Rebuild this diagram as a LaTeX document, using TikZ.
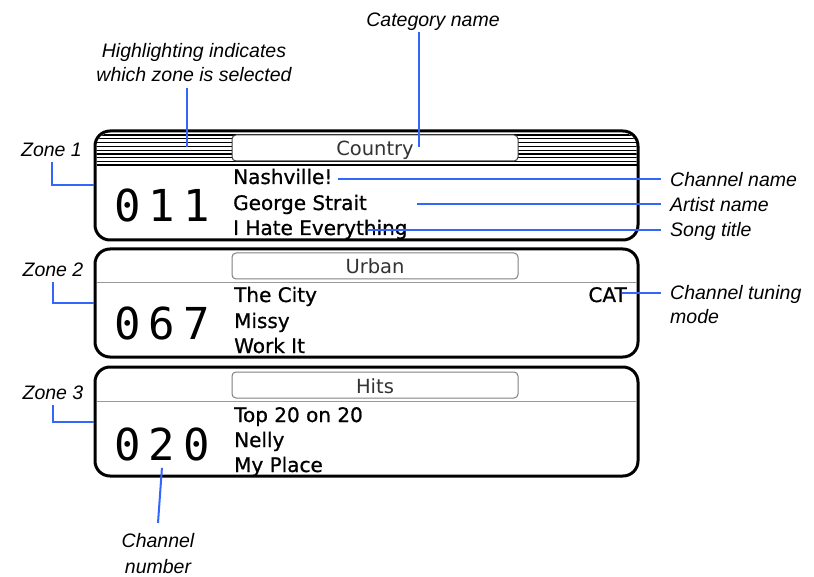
\documentclass[tikz,border=0pt]{standalone}
\usepackage{fontspec}
\setmainfont{Liberation Sans}
\newfontfamily\dejavu{DejaVu Sans}
\newfontfamily\dejavubf[FakeBold=0.9]{DejaVu Sans}
\newfontfamily\dmono{DejaVu Sans Mono}
\definecolor{callout}{HTML}{3366FF}
\begin{document}
\begin{tikzpicture}[x=1pt,y=-1pt,
  zonebox/.style={draw=black, line width=3pt, rounded corners=15pt, minimum width=543pt, inner sep=0pt},
  catbox/.style={draw=black!50, line width=1pt, rounded corners=4pt, fill=white, minimum width=286pt, minimum height=26pt, inner sep=0pt},
  lbl/.style={font=\fontsize{19.5}{24}\selectfont\itshape, inner sep=0pt},
  info/.style={font=\dejavubf\fontsize{20}{24}\selectfont, inner sep=0pt, anchor=base west},
  digits/.style={font=\dmono\fontsize{44}{48}\selectfont, inner sep=0pt, anchor=base west},
  cattext/.style={font=\dejavu\fontsize{19.5}{22}\selectfont, text=black!80, inner sep=0pt, anchor=base},
  lead/.style={draw=callout, line width=2pt},
  hatch/.style={draw=black, line width=1.1pt},
  sepgray/.style={draw=black!40, line width=1pt}
]
\useasboundingbox (0,0) rectangle (814,577);

% ---------- Zone boxes ----------
\node[zonebox, minimum height=109pt] (z1) at (366.5,185.5) {};
\node[zonebox, minimum height=108pt] (z2) at (366.5,303) {};
\node[zonebox, minimum height=109pt] (z3) at (366.5,421.5) {};

% hatching of the selected zone header
\begin{scope}
  \clip[rounded corners=14pt] (96.5,132.5) rectangle (636.5,238.5);
  \foreach \k in {0,...,7} {
    \draw[hatch] (95,135+\k*3.8) -- (638,135+\k*3.8);
  }
\end{scope}
\draw[line width=2pt] (96.5,165.5) -- (636.5,165.5);
\draw[sepgray] (96.5,283) -- (636.5,283);
\draw[sepgray] (96.5,401) -- (636.5,401);

% ---------- Category boxes ----------
\node[catbox, draw=black!75] (c1) at (375,148) {};
\node[cattext] (c1t) at (375,156) {Country};
\node[catbox] (c2) at (375,266) {};
\node[cattext] (c2t) at (375,274) {Urban};
\node[catbox] (c3) at (375,385) {};
\node[cattext] (c3t) at (375,393) {Hits};

% ---------- Channel numbers ----------
\node[digits] (d1) at (114,222) {0\hspace{8pt}1\hspace{8pt}1};
\node[digits] (d2) at (114,340) {0\hspace{8pt}6\hspace{8pt}7};
\node[digits] (d3) at (114,460) {0\hspace{8pt}2\hspace{8pt}0};

% ---------- Info lines ----------
\node[info] (t1a) at (233,184) {Nashville!};
\node[info] (t1b) at (233,210) {George Strait};
\node[info] (t1c) at (233,235) {I Hate Everything};
\node[info] (t2a) at (234,302) {The City};
\node[info] (t2b) at (234,328) {Missy};
\node[info] (t2c) at (234,353) {Work It};
\node[info] (t3a) at (234,422) {Top 20 on 20};
\node[info] (t3b) at (234,447) {Nelly};
\node[info] (t3c) at (234,472) {My Place};
\node[info, anchor=base east] (cat) at (627,302) {CAT};

% ---------- Callout labels ----------
\node[lbl, anchor=base] (catname) at (433,27) {Category name};
\node[lbl, anchor=north, align=center] (hl) at (194,43) {Highlighting indicates\\which zone is selected};
\node[lbl, anchor=base] (zl1) at (51.5,157) {Zone 1};
\node[lbl, anchor=base] (zl2) at (53,277) {Zone 2};
\node[lbl, anchor=base] (zl3) at (53,399) {Zone 3};
\node[lbl, anchor=base west] (chn) at (670,187) {Channel name};
\node[lbl, anchor=base west] (art) at (670,212) {Artist name};
\node[lbl, anchor=base west] (song) at (670,237) {Song title};
\node[lbl, anchor=north west, align=left] (ctm) at (670,285) {Channel tuning\\mode};
\node[lbl, anchor=north, align=center, font=\fontsize{19.5}{26}\selectfont\itshape] (cnum) at (158,533) {Channel\\number};

% ---------- Leader lines ----------
\coordinate (catend) at (419,147);
\coordinate (hlend) at (187,147);
\draw[lead] (catname.south -| catend) ++(0,1) -- (catend);
\draw[lead] ([yshift=-6pt]hl.south -| hlend) -- (hlend);
\draw[lead] ([yshift=-5pt]zl1.south -| 52,0) |- (z1.west);
\draw[lead] ([yshift=-5pt]zl2.south) |- (z2.west);
\draw[lead] ([yshift=-6pt]zl3.south) |- (z3.west);
\draw[lead] ([xshift=5pt]t1a.east |- 0,179) -- ([xshift=-9pt]chn.west |- 0,179);
\draw[lead] ([xshift=50pt]t1b.east |- 0,204) -- ([xshift=-9pt]art.west |- 0,204);
\draw[lead] ([xshift=-41pt]t1c.east |- 0,230) -- ([xshift=-9pt]song.west |- 0,230);
\draw[lead] ([xshift=-5pt]cat.east |- 0,293) -- ([xshift=-9pt]ctm.west |- 0,293);
\draw[lead] ([yshift=-7pt]d3.south) -- ([yshift=10pt]cnum.north);
\end{tikzpicture}
\end{document}
